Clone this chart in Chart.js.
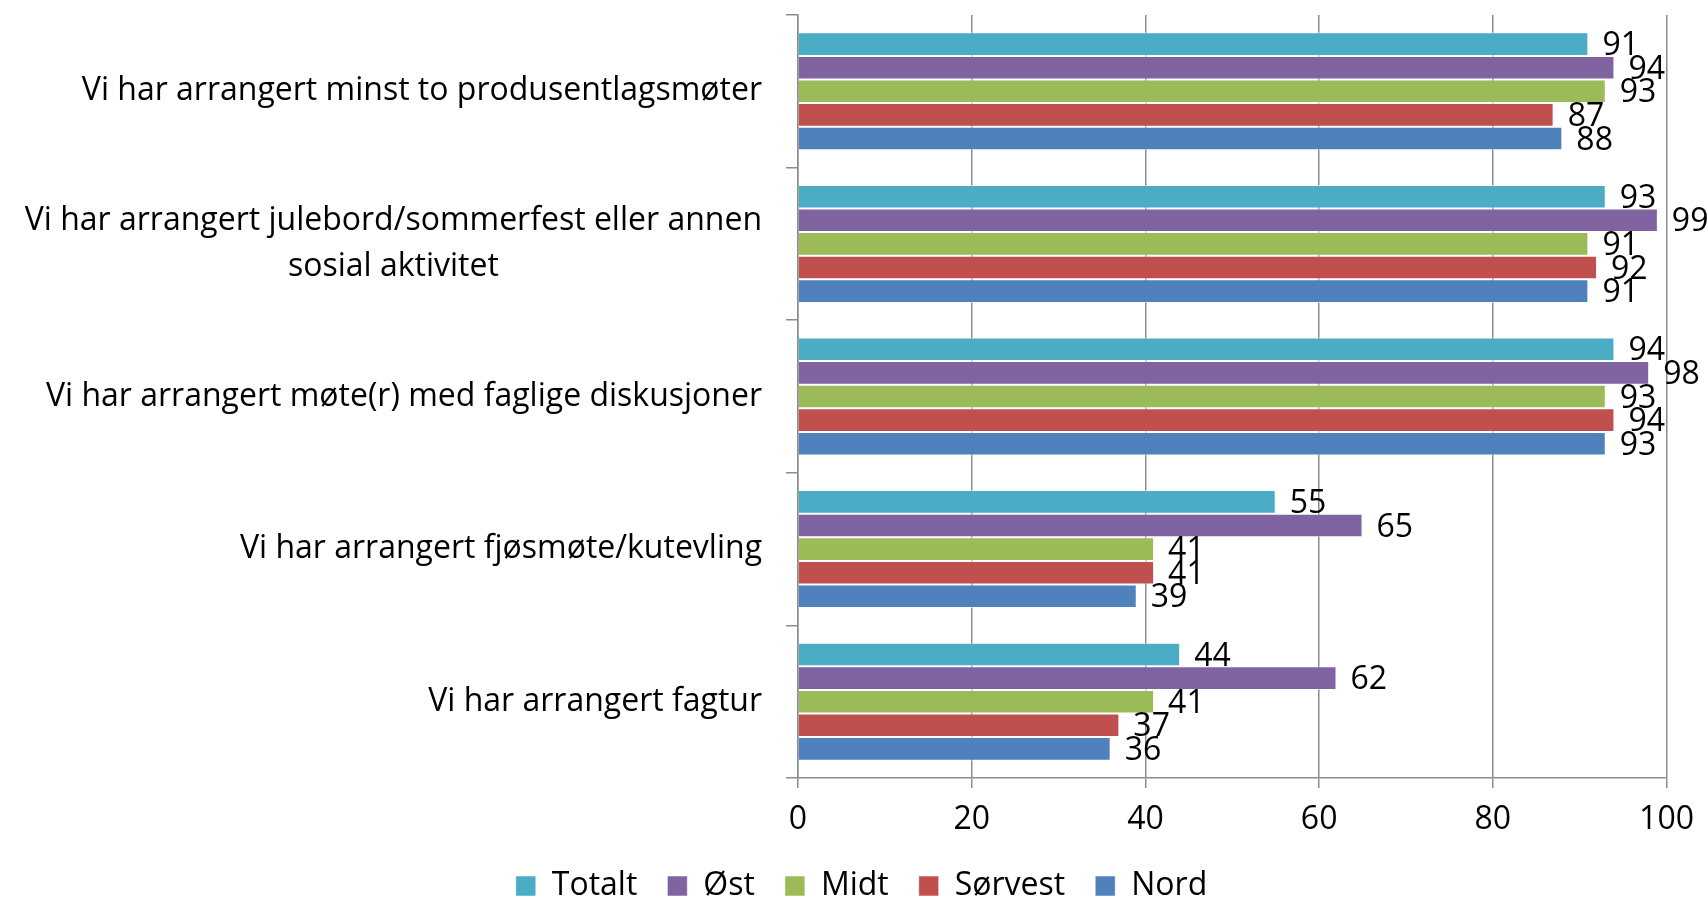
<!DOCTYPE html>
<html><head><meta charset="utf-8">
<script src="https://cdn.jsdelivr.net/npm/chart.js@4/dist/chart.umd.min.js"></script>
<style>html,body{margin:0;padding:0;background:#fff;} #wrap{width:1707px;height:905px;position:relative;}</style>
</head><body><div id="wrap"><canvas id="c"></canvas></div>
<script>
const categories = [
  ["Vi har arrangert minst to produsentlagsmøter"],
  ["Vi har arrangert julebord/sommerfest eller annen", "sosial aktivitet"],
  ["Vi har arrangert møte(r) med faglige diskusjoner"],
  ["Vi har arrangert fjøsmøte/kutevling"],
  ["Vi har arrangert fagtur"]
];
const seriesNames = ["Totalt", "Øst", "Midt", "Sørvest", "Nord"];
const totalt  = [91, 93, 94, 55, 44];
const ost     = [94, 99, 98, 65, 62];
const midt    = [93, 91, 93, 41, 41];
const sorvest = [87, 92, 94, 41, 37];
const nord    = [88, 91, 93, 39, 36];
const xTickValues = [0, 20, 40, 60, 80, 100];

const seriesColors = ["#4BACC6", "#8064A2", "#9BBB59", "#C0504D", "#4F81BD"];
const FONT = "'Open Sans'";
const FS = 32;

const seriesData = [totalt, ost, midt, sorvest, nord];

const yLabelPlugin = {
  id: 'yLabels',
  afterDraw(chart) {
    const ctx = chart.ctx, sc = chart.scales.y;
    ctx.save();
    ctx.font = FS + "px " + FONT;
    ctx.fillStyle = "#000";
    ctx.textBaseline = "middle";
    ctx.textAlign = "center";
    const lh = 46;
    chart.data.labels.forEach((lines, i) => {
      const y = sc.getPixelForTick(i);
      const widest = Math.max(...lines.map(l => ctx.measureText(l).width));
      const cx = sc.right - 36 - widest / 2;
      lines.forEach((l, j) => {
        ctx.fillText(l, cx, y + (j - (lines.length - 1) / 2) * lh);
      });
    });
    ctx.restore();
  }
};

const valueLabelPlugin = {
  id: 'valueLabels',
  afterDatasetsDraw(chart) {
    const ctx = chart.ctx;
    ctx.save();
    ctx.font = FS + "px " + FONT;
    ctx.fillStyle = "#000";
    ctx.textBaseline = "middle";
    ctx.textAlign = "left";
    chart.data.datasets.forEach((ds, di) => {
      chart.getDatasetMeta(di).data.forEach((bar, i) => {
        ctx.fillText(String(ds.data[i]), bar.x + 14, bar.y + 2);
      });
    });
    ctx.restore();
  }
};

const legendShiftPlugin = {
  id: 'legendShift',
  afterLayout(chart) {
    if (chart.legend) { chart.legend.left += 28; chart.legend.right += 28; }
  }
};

new Chart(document.getElementById('c'), {
  type: 'bar',
  data: {
    labels: categories,
    datasets: seriesNames.map((n, i) => ({
      label: n,
      data: seriesData[i],
      backgroundColor: seriesColors[i],
      borderColor: "rgba(255,255,255,0.55)",
      borderWidth: 1,
      categoryPercentage: 0.773,
      barPercentage: 1.0
    }))
  },
  options: {
    indexAxis: 'y',
    responsive: true,
    maintainAspectRatio: false,
    animation: false,
    layout: { padding: { top: 15, right: 40, left: 0, bottom: -7 } },
    plugins: {
      legend: {
        position: 'bottom',
        labels: {
          font: { family: FONT, size: FS },
          color: "#000",
          boxWidth: 20,
          boxHeight: 20,
          padding: 30
        }
      },
      tooltip: { enabled: false }
    },
    scales: {
      x: {
        min: 0, max: 100,
        afterBuildTicks(scale) { scale.ticks = xTickValues.map(v => ({ value: v })); },
        afterFit(scale) { scale.height = 62; },
        ticks: { font: { family: FONT, size: FS }, color: "#000", padding: 13 },
        grid: { color: "#8c8c8c", lineWidth: 1.5, tickLength: 10, drawTicks: true },
        border: { color: "#8c8c8c", width: 1.5 }
      },
      y: {
        afterFit(scale) { scale.width = 798; },
        ticks: { display: false },
        grid: { drawOnChartArea: false, drawTicks: true, tickLength: 12, color: "#8c8c8c", lineWidth: 1.5, offset: true },
        border: { color: "#8c8c8c", width: 1.5 }
      }
    }
  },
  plugins: [yLabelPlugin, valueLabelPlugin, legendShiftPlugin]
});
</script>
</body></html>
